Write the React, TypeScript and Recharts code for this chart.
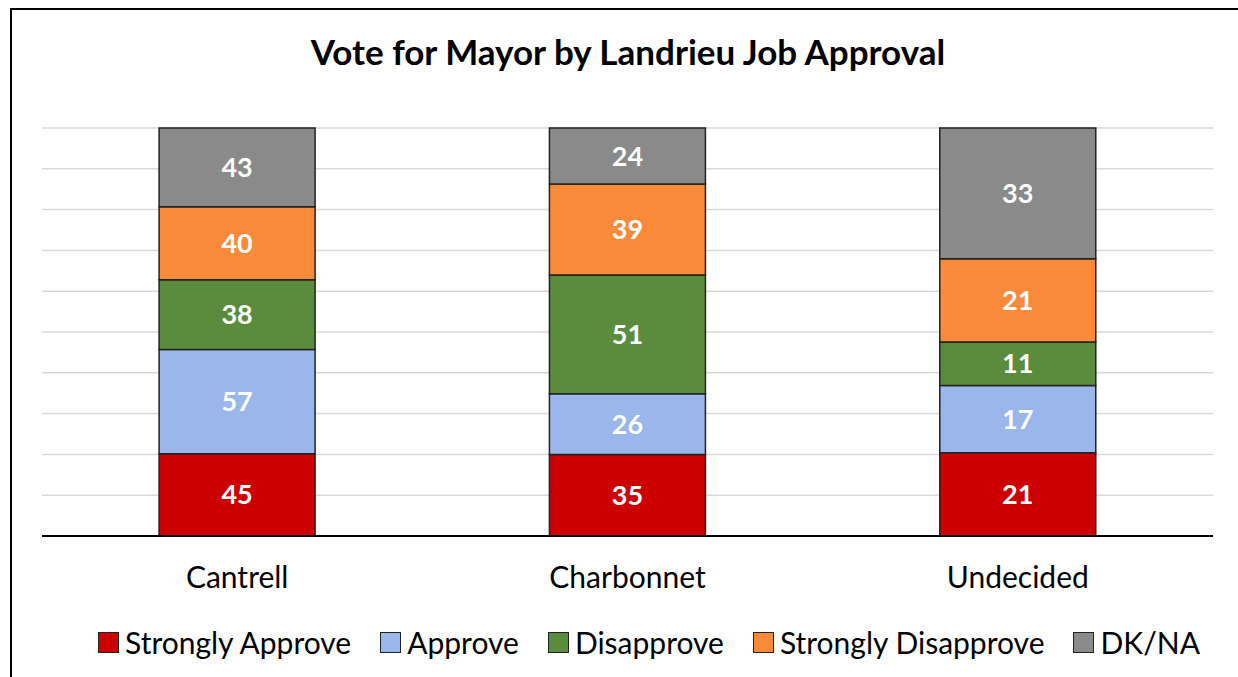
import React from "react";
import { BarChart, Bar, XAxis, YAxis, CartesianGrid, LabelList } from "recharts";

const categories = ["Cantrell", "Charbonnet", "Undecided"];
const stronglyApprove = [45, 35, 21];
const approve = [57, 26, 17];
const disapprove = [38, 51, 11];
const stronglyDisapprove = [40, 39, 21];
const dkna = [43, 24, 33];
const yTicks = [0, 0.1, 0.2, 0.3, 0.4, 0.5, 0.6, 0.7, 0.8, 0.9, 1];

const seriesDefs = [
  { key: "sa", name: "Strongly Approve", color: "#CC0000", values: stronglyApprove },
  { key: "a", name: "Approve", color: "#9AB6EA", values: approve },
  { key: "d", name: "Disapprove", color: "#5B8C3D", values: disapprove },
  { key: "sd", name: "Strongly Disapprove", color: "#F98A3A", values: stronglyDisapprove },
  { key: "dk", name: "DK/NA", color: "#8A8A8A", values: dkna },
];

const data = categories.map((c, i) => {
  const row: any = { name: c };
  seriesDefs.forEach((s) => (row[s.key] = s.values[i]));
  return row;
});

const FONT = "Lato, 'Open Sans', sans-serif";

export default function App() {
  return (
    <div style={{ position: "absolute", left: 0, top: 0, width: 1238, height: 677, background: "#fff", overflow: "hidden" }}>
      <div
        style={{
          position: "absolute",
          left: 10,
          top: 8,
          width: 1300,
          height: 700,
          borderLeft: "2px solid #000",
          borderTop: "2px solid #000",
        }}
      />
      <div
        style={{
          position: "absolute",
          left: 0,
          top: 29,
          width: 1256,
          textAlign: "center",
          fontFamily: FONT,
          fontWeight: 700,
          fontSize: 35,
          lineHeight: "44px",
          color: "#000",
        }}
      >
        Vote for Mayor by Landrieu Job Approval
      </div>
      <div style={{ position: "absolute", left: 0, top: 0 }}>
        <BarChart
          width={1238}
          height={677}
          data={data}
          stackOffset="expand"
          barCategoryGap="30%"
          margin={{ top: 128, left: 42, right: 25, bottom: 81 }}
        >
          <CartesianGrid vertical={false} stroke="#d9d9d9" strokeWidth={1.5} />
          <YAxis hide domain={[0, 1]} ticks={yTicks} />
          <XAxis
            dataKey="name"
            height={60}
            tickLine={false}
            tickSize={0}
            tickMargin={31}
            axisLine={{ stroke: "#000", strokeWidth: 2 }}
            tick={{ fill: "#000", fontSize: 30, fontFamily: FONT }}
          />
          {seriesDefs.map((s) => (
            <Bar
              key={s.key}
              dataKey={s.key}
              name={s.name}
              stackId="a"
              fill={s.color}
              stroke="#222"
              strokeWidth={1.5}
              isAnimationActive={false}
            >
              <LabelList
                dataKey={s.key}
                position="center"
                fill="#fff"
                style={{ fontFamily: FONT, fontWeight: 700, fontSize: 27 }}
              />
            </Bar>
          ))}
        </BarChart>
      </div>
      <div
        style={{
          position: "absolute",
          left: 0,
          top: 623,
          width: 1238,
          height: 38,
          display: "flex",
          justifyContent: "center",
          alignItems: "center",
          fontFamily: FONT,
          fontSize: 30,
          color: "#000",
          paddingLeft: 60,
          boxSizing: "border-box",
        }}
      >
        {seriesDefs.map((s, i) => (
          <div key={s.key} style={{ display: "flex", alignItems: "center", marginLeft: i === 0 ? 0 : 29 }}>
            <span
              style={{
                display: "inline-block",
                width: 19,
                height: 19,
                background: s.color,
                border: "1.5px solid #222",
                marginRight: 6,
              }}
            />
            <span>{s.name}</span>
          </div>
        ))}
      </div>
    </div>
  );
}
